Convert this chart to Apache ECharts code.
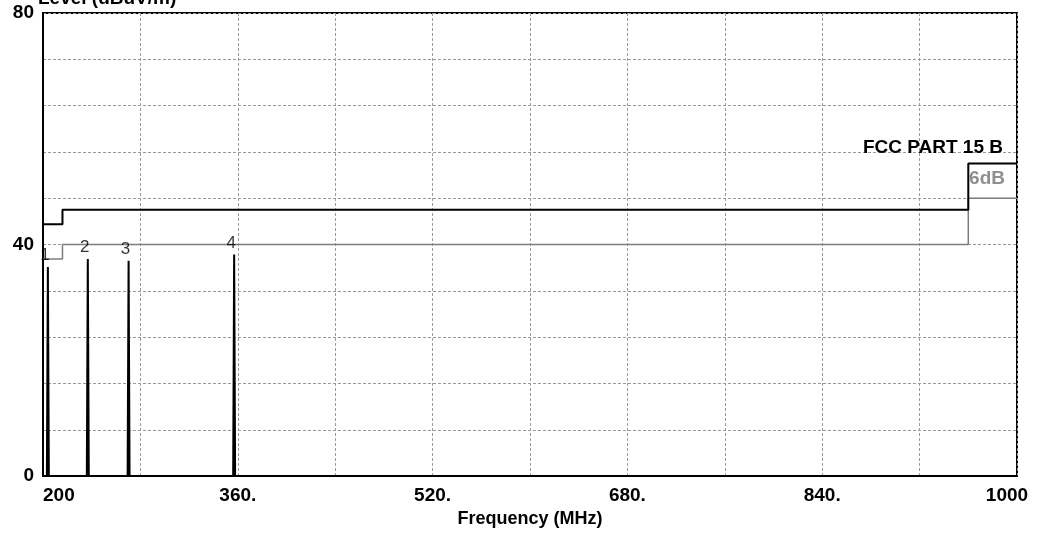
<!DOCTYPE html>
<html>
<head>
<meta charset="utf-8">
<script src="https://cdn.jsdelivr.net/npm/echarts@6/dist/echarts.min.js"></script>
<style>
  html, body { margin: 0; padding: 0; background: #fff; }
  #chart { width: 1041px; height: 533px; }
</style>
</head>
<body>
<div id="chart"></div>
<script>
// Frequency axis range (MHz) and the ticks that carry a label
const freqRange = [200, 1000];
const xTickValues = [200, 360, 520, 680, 840, 1000];
const xTickLabels = ['200', '360.', '520.', '680.', '840.', '1000'];

// Level axis range (dBuV/m) and the ticks that carry a label
const levelRange = [0, 80];
const yTickValues = [0, 40, 80];
const yTickLabels = ['0', '40', '80'];

// FCC Part 15 Class B limit (step line) and the 6 dB margin below it
const limitFreq   = [200, 216, 216, 960, 960, 1000];
const limitLevel  = [43.5, 43.5, 46, 46, 54, 54];
const marginLevel = [37.5, 37.5, 40, 40, 48, 48];

// Measured emission peaks
const peakNames  = ['1', '2', '3', '4'];
const peakFreq   = [204.0, 236.8, 270.3, 357.0];
const peakLevel  = [36.1, 37.5, 37.2, 38.3];

const FONT = '"Liberation Sans", Arial, sans-serif';

// Spectrum trace: flat floor with a narrow spike at each peak
const traceData = [[freqRange[0], 0]];
peakFreq.forEach((f, i) => {
  traceData.push([f - 0.8, 0], [f, peakLevel[i]], [f + 0.8, 0]);
});
traceData.push([freqRange[1], 0]);

const chart = echarts.init(document.getElementById('chart'), null, { renderer: 'canvas' });

const gridLine = { show: true, lineStyle: { color: '#9a9a9a', width: 1, type: [3, 2] } };

chart.setOption({
  animation: false,
  backgroundColor: '#fff',
  grid: { left: 43, right: 24, top: 13, bottom: 53, show: true, borderColor: '#000', borderWidth: 2 },
  xAxis: {
    type: 'value',
    min: freqRange[0], max: freqRange[1], interval: 80,
    axisLine: { show: true, lineStyle: { color: '#000', width: 2 } },
    axisTick: { show: false },
    splitLine: gridLine,
    axisLabel: {
      margin: 10,
      color: '#000', fontFamily: FONT, fontWeight: 'bold', fontSize: 19,
      alignMinLabel: 'left',
      formatter: v => {
        const i = xTickValues.indexOf(v);
        if (i < 0) return '';
        if (v === freqRange[1]) return '{r|' + xTickLabels[i] + '}';
        return xTickLabels[i];
      },
      rich: {
        r: { color: '#000', fontFamily: FONT, fontWeight: 'bold', fontSize: 19, padding: [0, 20, 0, 0] }
      }
    },
    name: 'Frequency (MHz)',
    nameLocation: 'middle',
    nameGap: 33,
    nameTextStyle: { color: '#000', fontFamily: FONT, fontWeight: 'bold', fontSize: 18 }
  },
  yAxis: {
    type: 'value',
    min: levelRange[0], max: levelRange[1], interval: 8,
    axisLine: { show: true, lineStyle: { color: '#000', width: 2 } },
    axisTick: { show: false },
    splitLine: gridLine,
    axisLabel: {
      margin: 9,
      color: '#000', fontFamily: FONT, fontWeight: 'bold', fontSize: 19,
      formatter: v => {
        const i = yTickValues.indexOf(v);
        return i < 0 ? '' : yTickLabels[i];
      }
    }
  },
  series: [
    {
      name: '6dB',
      type: 'line',
      data: limitFreq.map((f, i) => [f, marginLevel[i]]),
      symbol: 'none',
      lineStyle: { color: '#7d7d7d', width: 1.5 },
      z: 3
    },
    {
      name: 'FCC PART 15 B',
      type: 'line',
      data: limitFreq.map((f, i) => [f, limitLevel[i]]),
      symbol: 'none',
      lineStyle: { color: '#000', width: 2 },
      z: 4
    },
    {
      name: 'trace',
      type: 'line',
      data: traceData,
      symbol: 'none',
      lineStyle: { color: '#000', width: 2 },
      z: 5
    },
    {
      name: 'markers',
      type: 'scatter',
      data: peakFreq.map((f, i) => ({ value: [f, peakLevel[i]], name: peakNames[i] })),
      symbolSize: 0,
      label: {
        show: true,
        position: 'top',
        distance: 3,
        offset: [-3, 0],
        formatter: p => p.name,
        color: '#000', fontFamily: FONT, fontSize: 17
      },
      z: 6
    }
  ]
});

// Limit / margin captions placed relative to the right end of the limit line
const endLimit = chart.convertToPixel({ gridIndex: 0 }, [freqRange[1], limitLevel[limitLevel.length - 1]]);
const endMargin = chart.convertToPixel({ gridIndex: 0 }, [freqRange[1], marginLevel[marginLevel.length - 1]]);

chart.setOption({
  graphic: [
    {
      type: 'text', left: 38, top: -11,
      style: { text: 'Level (dBuV/m)', fill: '#000', font: 'bold 19px ' + FONT }
    },
    {
      type: 'text', x: endLimit[0] - 14, y: endLimit[1] - 6,
      style: { text: 'FCC PART 15 B', fill: '#000', font: 'bold 19px ' + FONT, align: 'right', verticalAlign: 'bottom' }
    },
    {
      type: 'text', x: endLimit[0] - 12, y: (endLimit[1] + endMargin[1]) / 2 - 2,
      style: { text: '6dB', fill: '#8f8f8f', font: 'bold 19px ' + FONT, align: 'right', verticalAlign: 'middle' }
    }
  ]
});
</script>
</body>
</html>
